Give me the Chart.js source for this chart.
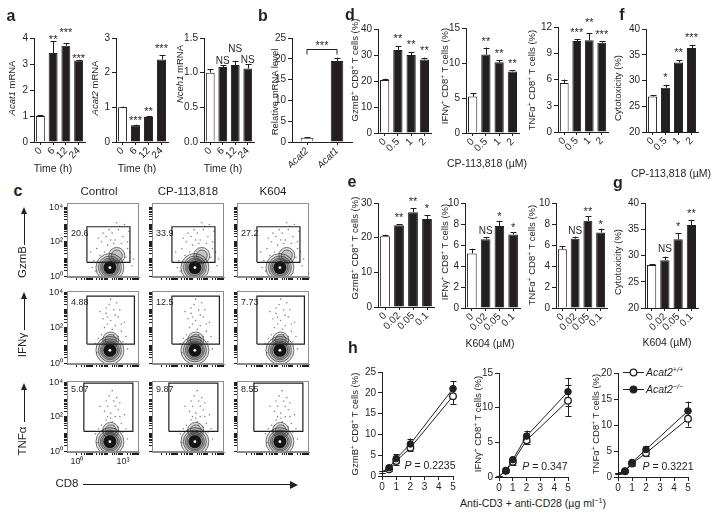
<!DOCTYPE html>
<html>
<head>
<meta charset="utf-8">
<script src="https://cdn.jsdelivr.net/npm/chart.js@4.4.1/dist/chart.umd.min.js"></script>
<style>
  html, body { margin: 0; padding: 0; background: #fff; }
  #fig { position: relative; width: 724px; height: 519px; overflow: hidden;
         font-family: "Liberation Sans", Arial, sans-serif; color: #231f20; }
  #fig canvas { position: absolute; }
  .t { position: absolute; white-space: nowrap; line-height: 1; font-size: 9.5px; }
  .t sup { font-size: 0.68em; vertical-align: 0.5em; line-height: 0; }
  .x { font-size: 10.5px; }
  .hd { font-size: 11.5px; }
  .p { font-size: 16px; font-weight: bold; }
</style>
</head>
<body>
<div id="fig"></div>
<script>
// ---- data ----
const timeLabels = ['0', '6', '12', '24'];
const acat1Mean = [1.0, 3.42, 3.7, 3.13];
const acat1Err = [0.02, 0.45, 0.1, 0.03];
const acat1Sig = ['', '**', '***', '***'];
const acat2Mean = [1.0, 0.48, 0.72, 2.38];
const acat2Err = [0.02, 0.02, 0.03, 0.12];
const acat2Sig = ['', '***', '**', '***'];
const nceh1Mean = [1.0, 1.08, 1.11, 1.06];
const nceh1Err = [0.05, 0.03, 0.06, 0.06];
const nceh1Sig = ['', 'NS', 'NS', 'NS'];

const geneLabels = ['Acat2', 'Acat1'];
const geneMean = [1.0, 19.5];
const geneErr = [0.1, 0.8];
const geneSig = '***';

const cpLabels = ['0', '0.5', '1', '2'];
const cpGzmbMean = [20.4, 31.9, 30.0, 28.3];
const cpGzmbErr = [0.5, 1.4, 1.2, 0.7];
const cpGzmbSig = ['', '**', '**', '**'];
const cpIfngMean = [5.2, 11.2, 10.1, 8.8];
const cpIfngErr = [0.5, 1.0, 0.35, 0.15];
const cpIfngSig = ['', '**', '**', '**'];
const cpTnfMean = [5.6, 10.4, 10.5, 10.2];
const cpTnfErr = [0.4, 0.2, 0.8, 0.15];
const cpTnfSig = ['', '***', '**', '***'];
const cpCytoMean = [26.9, 28.6, 33.5, 36.3];
const cpCytoErr = [0.25, 0.55, 0.4, 0.6];
const cpCytoSig = ['', '*', '**', '***'];

const kLabels = ['0', '0.02', '0.05', '0.1'];
const kGzmbMean = [20.4, 23.6, 27.3, 25.4];
const kGzmbErr = [0.5, 0.3, 1.2, 1.1];
const kGzmbSig = ['', '**', '**', '*'];
const kIfngMean = [5.2, 6.55, 7.8, 7.0];
const kIfngErr = [0.45, 0.2, 0.5, 0.2];
const kIfngSig = ['', 'NS', '*', '*'];
const kTnfMean = [5.6, 6.6, 8.3, 7.2];
const kTnfErr = [0.3, 0.2, 0.45, 0.35];
const kTnfSig = ['', 'NS', '**', '*'];
const kCytoMean = [28.2, 29.1, 33.1, 35.8];
const kCytoErr = [0.2, 0.7, 1.1, 1.0];
const kCytoSig = ['', 'NS', '*', '**'];

const doseX = [0, 0.5, 1, 2, 5];
const hGzmbWt = [0.9, 1.6, 3.6, 6.8, 19.2];
const hGzmbWtErr = [0.2, 0.4, 0.9, 0.9, 2.0];
const hGzmbKo = [1.0, 2.0, 4.2, 7.7, 21.0];
const hGzmbKoErr = [0.2, 0.4, 1.0, 1.3, 1.8];
const hIfngWt = [0.1, 0.9, 2.2, 5.3, 11.0];
const hIfngWtErr = [0.1, 0.2, 0.4, 0.6, 2.2];
const hIfngKo = [0.1, 0.9, 2.5, 5.9, 12.3];
const hIfngKoErr = [0.1, 0.2, 0.4, 0.8, 2.0];
const hTnfWt = [0.7, 1.1, 2.6, 4.6, 11.2];
const hTnfWtErr = [0.1, 0.2, 0.4, 0.6, 1.5];
const hTnfKo = [0.7, 1.1, 2.8, 5.3, 12.7];
const hTnfKoErr = [0.1, 0.2, 0.4, 0.6, 1.8];
const pValues = ['0.2235', '0.347', '0.3221'];

// flow panels (log10 units)
const flowRows = ['GzmB', 'IFNγ', 'TNFα'];
const flowCols = ['Control', 'CP-113,818', 'K604'];
const gatePct = [['20.6', '33.9', '27.2'], ['4.88', '12.5', '7.73'], ['5.07', '9.87', '8.55']];
const gateX = [[0.65, 3.46], [0.65, 3.75], [0.45, 3.65]];
const gateY = [[0.8, 2.87], [1.07, 3.77], [1.14, 3.94]];
const coreXY = [[2.15, 0.5], [2.15, 0.72], [2.15, 0.55]];
const tailXY = [[2.6, 1.2], [2.2, 1.3], [2.2, 1.2]];
const flowDots = [
  [[1.3,1.6],[1.6,2.0],[1.9,2.3],[2.3,2.5],[2.7,2.7],[3.0,2.3],[3.3,2.0],[2.5,2.1],[2.0,1.8],[1.5,1.2],[1.1,0.9],[3.5,1.4],
   [3.2,1.1],[2.8,2.9],[2.1,2.7],[1.7,2.5],[3.4,2.6],[1.2,0.3],[3.6,0.6],[0.9,1.4],[2.6,3.1],[1.4,2.2],[3.1,3.0],[2.4,1.9],
   [1.8,1.4],[2.9,1.9],[3.3,1.6],[1.0,0.5],[3.7,1.0],[2.2,2.1]],
  [[1.8,2.0],[2.2,2.4],[2.5,2.1],[1.9,2.8],[2.4,3.0],[2.1,3.3],[2.7,2.6],[1.6,1.6],[2.9,1.8],[2.3,1.9],[2.0,2.2],[2.6,3.4],
   [1.7,2.5],[3.1,2.3],[1.4,1.4],[3.2,1.5],[2.8,3.0],[1.5,2.9],[2.2,3.6],[3.0,1.2],[1.2,1.1],[2.5,2.7],[1.9,3.1],[2.7,1.5],
   [1.3,0.6],[3.3,0.8],[2.4,1.6],[1.8,1.3],[2.0,2.6],[2.9,2.2]],
  [[1.9,1.8],[2.2,2.2],[2.5,2.0],[2.0,2.6],[2.4,2.9],[2.1,3.2],[2.7,2.4],[1.6,1.5],[2.9,1.6],[2.3,1.7],[1.8,2.3],[2.6,3.1],
   [3.1,2.1],[1.4,1.3],[3.2,1.3],[2.8,2.8],[1.5,2.6],[2.3,3.5],[3.0,1.1],[1.2,1.0],[2.5,2.6],[1.9,2.9],[2.7,1.4],[2.2,1.9],
   [1.3,0.5],[3.3,0.7],[2.4,1.5],[1.7,1.2],[2.0,2.0],[2.8,2.0]]
];

// ---- setup ----
const INK = '#231f20';
const FONT = '"Liberation Sans", Arial, sans-serif';
Chart.defaults.font.family = FONT;
Chart.defaults.color = INK;
const fig = document.getElementById('fig');

function place(box, pad) {
  const c = document.createElement('canvas');
  const w = box[2] - box[0] + pad.l + pad.r, h = box[3] - box[1] + pad.t + pad.b;
  c.width = w; c.height = h;
  c.style.left = (box[0] - pad.l) + 'px'; c.style.top = (box[1] - pad.t) + 'px';
  c.style.width = w + 'px'; c.style.height = h + 'px';
  fig.appendChild(c);
  return c;
}
function noPad(s) { s.paddingLeft = s.paddingRight = s.paddingTop = s.paddingBottom = 0; }
const fitW = w => s => { s.width = w; noPad(s); };
const fitH = h => s => { s.height = h; noPad(s); };

function txt(html, cx, cy, cls, rot, left) {
  const d = document.createElement('div');
  d.className = 't ' + (cls || '');
  d.innerHTML = html;
  d.style.left = cx + 'px'; d.style.top = cy + 'px';
  d.style.transform = (left ? 'translate(0,-50%)' : 'translate(-50%,-50%)') + (rot ? ' rotate(-90deg)' : '');
  fig.appendChild(d);
}

// error bars, significance marks, bracket, legend symbols
function drawErr(chart, o) {
  const ctx = chart.ctx, y = chart.scales.y;
  ctx.save();
  ctx.strokeStyle = INK; ctx.lineWidth = 1;
  o.errors.forEach((errs, di) => {
    const ds = chart.data.datasets[di], meta = chart.getDatasetMeta(di);
    meta.data.forEach((el, i) => {
      const raw = ds.data[i], v = typeof raw === 'object' ? raw.y : raw, e = errs[i];
      if (!e) return;
      const x = Math.round(el.x) + 0.5, cw = o.cap || 3;
      const yt = y.getPixelForValue(v + e);
      const yb = y.getPixelForValue(o.both ? v - e : v);
      ctx.beginPath();
      ctx.moveTo(x, yb); ctx.lineTo(x, yt);
      ctx.moveTo(x - cw, Math.round(yt) + 0.5); ctx.lineTo(x + cw, Math.round(yt) + 0.5);
      if (o.both) { ctx.moveTo(x - cw, Math.round(yb) + 0.5); ctx.lineTo(x + cw, Math.round(yb) + 0.5); }
      ctx.stroke();
    });
  });
  ctx.restore();
}
const errPlugin = {
  id: 'err',
  beforeDatasetsDraw(chart, args, o) { if (o.errors && o.both) drawErr(chart, o); },
  afterDatasetsDraw(chart, args, o) {
    if (!o.errors) return;
    if (!o.both) drawErr(chart, o);
    const ctx = chart.ctx, y = chart.scales.y, a = chart.chartArea;
    ctx.save();
    ctx.fillStyle = INK; ctx.strokeStyle = INK; ctx.lineWidth = 1;
    ctx.textAlign = 'center'; ctx.textBaseline = 'alphabetic';
    if (o.marks) {
      const ds = chart.data.datasets[0], meta = chart.getDatasetMeta(0);
      o.marks.forEach((m, i) => {
        if (!m) return;
        const cap = y.getPixelForValue(ds.data[i] + o.errors[0][i]);
        const lift = (o.lift && o.lift[i]) || 0;
        const ns = m === 'NS';
        ctx.font = (ns ? '10px ' : '11px ') + FONT;
        ctx.fillText(m, meta.data[i].x, cap - (o.gap || 5) - lift + (ns ? 4 : 6));
      });
    }
    if (o.bracket) {
      const meta = chart.getDatasetMeta(0);
      const x0 = meta.data[0].x, x1 = meta.data[1].x;
      const yb = Math.round(y.getPixelForValue(o.bracket.y)) + 0.5;
      ctx.beginPath();
      ctx.moveTo(x0, yb + 5); ctx.lineTo(x0, yb); ctx.lineTo(x1, yb); ctx.lineTo(x1, yb + 5);
      ctx.stroke();
      ctx.font = '11px ' + FONT;
      ctx.fillText(o.bracket.text, (x0 + x1) / 2, yb - 1);
    }
    if (o.legend) {
      ['#fff', INK].forEach((fill, i) => {
        const yy = a.top - 0.5 + i * 17;
        ctx.beginPath(); ctx.moveTo(a.left + 5, yy); ctx.lineTo(a.left + 26, yy); ctx.stroke();
        ctx.beginPath(); ctx.arc(a.left + 15.5, yy, 3.3, 0, Math.PI * 2);
        ctx.fillStyle = fill; ctx.fill(); ctx.lineWidth = 1.3; ctx.stroke(); ctx.lineWidth = 1;
      });
    }
    ctx.restore();
  }
};
const flowPlugin = {
  id: 'flow',
  afterDraw(chart, args, o) {
    if (!o.label) return;
    const ctx = chart.ctx, a = chart.chartArea, y = chart.scales.y;
    ctx.save();
    ctx.strokeStyle = '#8c8c8c'; ctx.lineWidth = 1;
    ctx.strokeRect(a.left + 0.5, a.top + 0.5, a.right - a.left - 1, a.bottom - a.top - 1);
    ctx.fillStyle = INK; ctx.font = '9px ' + FONT;
    ctx.textAlign = 'left'; ctx.textBaseline = 'top';
    ctx.fillText(o.label, a.left + 4, y.getPixelForValue(o.gateTop) + 2);
    ctx.restore();
  }
};
Chart.register(errPlugin, flowPlugin);

function base(pad, plugins, scales) {
  return {
    responsive: false, animation: false, events: [],
    layout: { autoPadding: false, padding: { left: 0, top: pad.t, right: pad.r, bottom: 0 } },
    plugins: Object.assign({ legend: { display: false }, tooltip: { enabled: false } }, plugins),
    scales: scales
  };
}
function yLin(w, ax) {
  return {
    min: ax[0], max: ax[1],
    grid: { drawOnChartArea: false, tickLength: 4, color: INK },
    border: { color: INK },
    ticks: { stepSize: ax[2], padding: 2, font: { size: 10 }, color: INK, callback: ax[3] || (v => v) },
    afterFit: fitW(w)
  };
}
function xCat(h, italic) {
  return {
    grid: { offset: false, drawOnChartArea: false, tickLength: 3, color: INK },
    border: { color: INK },
    ticks: { autoSkip: false, minRotation: 45, maxRotation: 45, padding: 0,
             font: { size: 10, style: italic ? 'italic' : 'normal' }, color: INK },
    afterFit: fitH(h)
  };
}

function bars(box, labels, mean, err, sig, ax, more) {
  more = more || {};
  const pad = { l: 28, t: 28, r: 10, b: 26 };
  const cv = place(box, pad);
  new Chart(cv, {
    type: 'bar',
    data: {
      labels: labels,
      datasets: [{
        data: mean,
        backgroundColor: mean.map((v, i) => i === 0 ? '#fff' : INK),
        borderColor: INK, borderWidth: 1,
        barPercentage: more.bar || 0.7, categoryPercentage: 1
      }]
    },
    options: base(pad,
      { err: { errors: [err], marks: sig, gap: more.gap, lift: more.lift, bracket: more.bracket, cap: more.cap || 3 } },
      { x: xCat(pad.b, more.italic), y: yLin(pad.l, ax) })
  });
}

function dose(box, wt, wtE, ko, koE, yMax, legend) {
  const pad = { l: 24, t: 12, r: 8, b: 16 };
  const cv = place(box, pad);
  const pts = arr => doseX.map((x, i) => ({ x: x, y: arr[i] }));
  const ptR = doseX.map(x => x === 0 ? 0 : 3.3);
  new Chart(cv, {
    type: 'line',
    data: {
      datasets: [
        { data: pts(ko), borderColor: INK, borderWidth: 1, pointRadius: ptR, pointBackgroundColor: INK,
          pointBorderColor: INK, pointBorderWidth: 1, clip: false },
        { data: pts(wt), borderColor: INK, borderWidth: 1, pointRadius: ptR, pointBackgroundColor: '#fff',
          pointBorderColor: INK, pointBorderWidth: 1.3, clip: false }
      ]
    },
    options: base(pad, { err: { errors: [koE, wtE], both: true, cap: 3, legend: legend } }, {
      x: {
        type: 'linear', min: 0, max: 5,
        grid: { drawOnChartArea: false, tickLength: 4, color: INK },
        border: { color: INK },
        ticks: { stepSize: 1, maxRotation: 0, padding: 1, font: { size: 10 }, color: INK },
        afterFit: fitH(pad.b)
      },
      y: yLin(pad.l, [0, yMax, 5])
    })
  });
}

function logTicks() {
  const t = [];
  for (let k = 0; k < 4; k++) for (let m = 1; m < 10; m++) t.push(k + Math.log10(m));
  t.push(4);
  return t;
}
const flowLeft = [67, 152, 237], flowTop = [203, 291, 381], flowBottom = [277, 364, 452];
const flowYMax = [4.25, 4.06, 4.06];
function flow(r, c) {
  const showY = c === 0, showX = r === 2 && c === 0;
  const pad = { l: 22, t: 2, r: 2, b: showX ? 18 : 5 };
  const cv = place([flowLeft[c], flowTop[r], flowLeft[c] + 72, flowBottom[r]], pad);
  const gx = gateX[r], gy = gateY[r];
  const core = { x: coreXY[r][0], y: coreXY[r][1] }, tail = { x: tailXY[r][0], y: tailXY[r][1] };
  const yLab = { 0: '10⁰', 2: '10²', 4: '10⁴' }, xLab = { 0: '10⁰', 3: '10³' };
  new Chart(cv, {
    type: 'scatter',
    data: {
      datasets: [
        { type: 'line', data: [{ x: gx[0], y: gy[0] }, { x: gx[0], y: gy[1] }, { x: gx[1], y: gy[1] },
                               { x: gx[1], y: gy[0] }, { x: gx[0], y: gy[0] }],
          borderColor: INK, borderWidth: 1.2, pointRadius: 0, fill: false, tension: 0 },
        { data: [core, core], pointRadius: [6.5, 1.4], backgroundColor: ['#151515', '#fff'], borderWidth: 0, clip: 0 },
        { data: [core, core, core, core, tail, tail], pointRadius: [14, 11.5, 9.5, 8, 8, 5.5],
          backgroundColor: 'rgba(0,0,0,0.12)', borderColor: '#3a3a3a', borderWidth: 0.7, clip: 0 },
        { data: flowDots[r].map(p => ({ x: p[0], y: p[1] })), pointRadius: 0.8, backgroundColor: '#888',
          borderWidth: 0, clip: 0 }
      ]
    },
    options: base(pad, { flow: { label: gatePct[r][c], gateTop: gy[1] } }, {
      x: {
        type: 'linear', min: -0.65, max: 4.05,
        afterBuildTicks: s => { s.ticks = logTicks().map(v => ({ value: v })); },
        grid: { drawOnChartArea: false, tickLength: 3, color: INK },
        border: { color: '#8c8c8c' },
        ticks: { autoSkip: false, maxRotation: 0, padding: 1, font: { size: 9 }, color: INK,
                 callback: v => showX ? (xLab[v] || '') : '' },
        afterFit: fitH(pad.b)
      },
      y: {
        min: -0.05, max: flowYMax[r],
        afterBuildTicks: s => { s.ticks = logTicks().map(v => ({ value: v })); },
        grid: { drawOnChartArea: false, tickLength: 3, color: INK },
        border: { color: '#8c8c8c' },
        ticks: { autoSkip: false, padding: 1, font: { size: 9 }, color: INK,
                 callback: v => showY ? (yLab[v] || '') : '' },
        afterFit: fitW(pad.l)
      }
    })
  });
}

// ---- panels ----
const fix1 = v => v.toFixed(1);
bars([34, 38, 85, 142], timeLabels, acat1Mean, acat1Err, acat1Sig, [0, 4, 1], { gap: 4, lift: [0, 0, 9, 0] });
bars([116, 38, 168, 142], timeLabels, acat2Mean, acat2Err, acat2Sig, [0, 3, 1], { gap: 7, lift: [0, 0, 0, 2] });
bars([204, 38, 254, 142], timeLabels, nceh1Mean, nceh1Err, nceh1Sig, [0, 1.5, 0.5, fix1], { gap: 5, lift: [0, 0, 8, 0] });
bars([292, 38, 352, 142], geneLabels, geneMean, geneErr, null, [0, 25, 5],
     { bar: 0.42, italic: true, bracket: { y: 22.4, text: geneSig } });

bars([378, 29, 431, 133], cpLabels, cpGzmbMean, cpGzmbErr, cpGzmbSig, [0, 40, 10], { gap: 10 });
bars([466, 28, 519, 133], cpLabels, cpIfngMean, cpIfngErr, cpIfngSig, [0, 15, 5], { gap: 9 });
bars([558, 27, 608, 132], cpLabels, cpTnfMean, cpTnfErr, cpTnfSig, [0, 12, 3], { gap: 9, lift: [0, 0, 4, 0] });
bars([646, 29, 698, 132], cpLabels, cpCytoMean, cpCytoErr, cpCytoSig, [20, 40, 5], { gap: 10 });

bars([378, 203, 434, 307], kLabels, kGzmbMean, kGzmbErr, kGzmbSig, [0, 30, 10], { gap: 9 });
bars([465, 203, 520, 308], kLabels, kIfngMean, kIfngErr, kIfngSig, [0, 10, 2], { gap: 7 });
bars([556, 203, 607, 308], kLabels, kTnfMean, kTnfErr, kTnfSig, [0, 10, 2], { gap: 7 });
bars([645, 203, 698, 308], kLabels, kCytoMean, kCytoErr, kCytoSig, [20, 40, 5], { gap: 9 });

dose([382, 372, 453, 476], hGzmbWt, hGzmbWtErr, hGzmbKo, hGzmbKoErr, 25, false);
dose([499, 373, 568, 477], hIfngWt, hIfngWtErr, hIfngKo, hIfngKoErr, 15, false);
dose([618, 373, 688, 477], hTnfWt, hTnfWtErr, hTnfKo, hTnfKoErr, 20, true);

for (let r = 0; r < 3; r++) for (let c = 0; c < 3; c++) flow(r, c);

// ---- text ----
[['a', 11, 16], ['b', 263, 16], ['c', 18, 191], ['d', 350, 15], ['e', 352, 182],
 ['f', 622, 15], ['g', 618, 183], ['h', 353, 348]].forEach(p => txt(p[0], p[1], p[2], 'p'));

txt('<i>Acat1</i> mRNA', 12, 88, '', true);
txt('<i>Acat2</i> mRNA', 95, 88, '', true);
txt('<i>Nceh1</i> mRNA', 180, 74, '', true);
txt('Relative mRNA level', 275, 92, '', true);
[53, 137, 223].forEach(x => txt('Time (h)', x, 168, 'x'));

const gz = 'GzmB<sup>+</sup> CD8<sup>+</sup> T cells (%)';
const ifn = 'IFNγ<sup>+</sup> CD8<sup>+</sup> T cells (%)';
const tnf = 'TNFα<sup>+</sup> CD8<sup>+</sup> T cells (%)';
txt(gz, 355, 70, '', true); txt(ifn, 445, 76, '', true); txt(tnf, 532, 80, '', true);
txt('Cytotoxicity (%)', 618, 88, '', true);
txt('CP-113,818 (µM)', 487, 163, 'x'); txt('CP-113,818 (µM)', 671, 173, 'x');
txt(gz, 355, 248, '', true); txt(ifn, 445, 252, '', true); txt(tnf, 532, 255, '', true);
txt('Cytotoxicity (%)', 618, 262, '', true);
txt('K604 (µM)', 490, 343, 'x'); txt('K604 (µM)', 667, 342, 'x');
txt(gz, 355, 424, '', true); txt(ifn, 478, 424, '', true); txt(tnf, 596, 424, '', true);
txt('<i>P</i> = ' + pValues[0], 430, 465, 'x');
txt('<i>P</i> = ' + pValues[1], 545, 466, 'x');
txt('<i>P</i> = ' + pValues[2], 668, 466, 'x');
txt('<i>Acat2</i><sup><i>+/+</i></sup>', 646, 372, 'x', false, true);
txt('<i>Acat2</i><sup><i>−/−</i></sup>', 646, 389, 'x', false, true);
txt('Anti-CD3 + anti-CD28 (µg ml<sup>−1</sup>)', 533, 503, 'x');

flowCols.forEach((name, c) => txt(name, [99, 188, 273][c], 192, 'hd'));
[262, 345, 441].forEach((cy, r) => txt(flowRows[r], 23, cy, 'hd', true));
txt('CD8', 67, 484, 'hd');

function box(l, t, w, h, css) {
  const d = document.createElement('div');
  d.style.cssText = 'position:absolute;left:' + l + 'px;top:' + t + 'px;width:' + w + 'px;height:' + h + 'px;' + (css || '');
  fig.appendChild(d);
}
// axis arrows for the flow plots
[[207, 245], [292, 330], [383, 422]].forEach(a => {
  box(24, a[0] + 6, 1, a[1] - a[0] - 6, 'background:' + INK);
  box(21, a[0], 0, 0, 'border-left:3.5px solid transparent;border-right:3.5px solid transparent;border-bottom:7px solid ' + INK);
});
box(83, 484, 207, 1, 'background:' + INK);
box(290, 480.5, 0, 0, 'border-top:4px solid transparent;border-bottom:4px solid transparent;border-left:8px solid ' + INK);
</script>
</body>
</html>
